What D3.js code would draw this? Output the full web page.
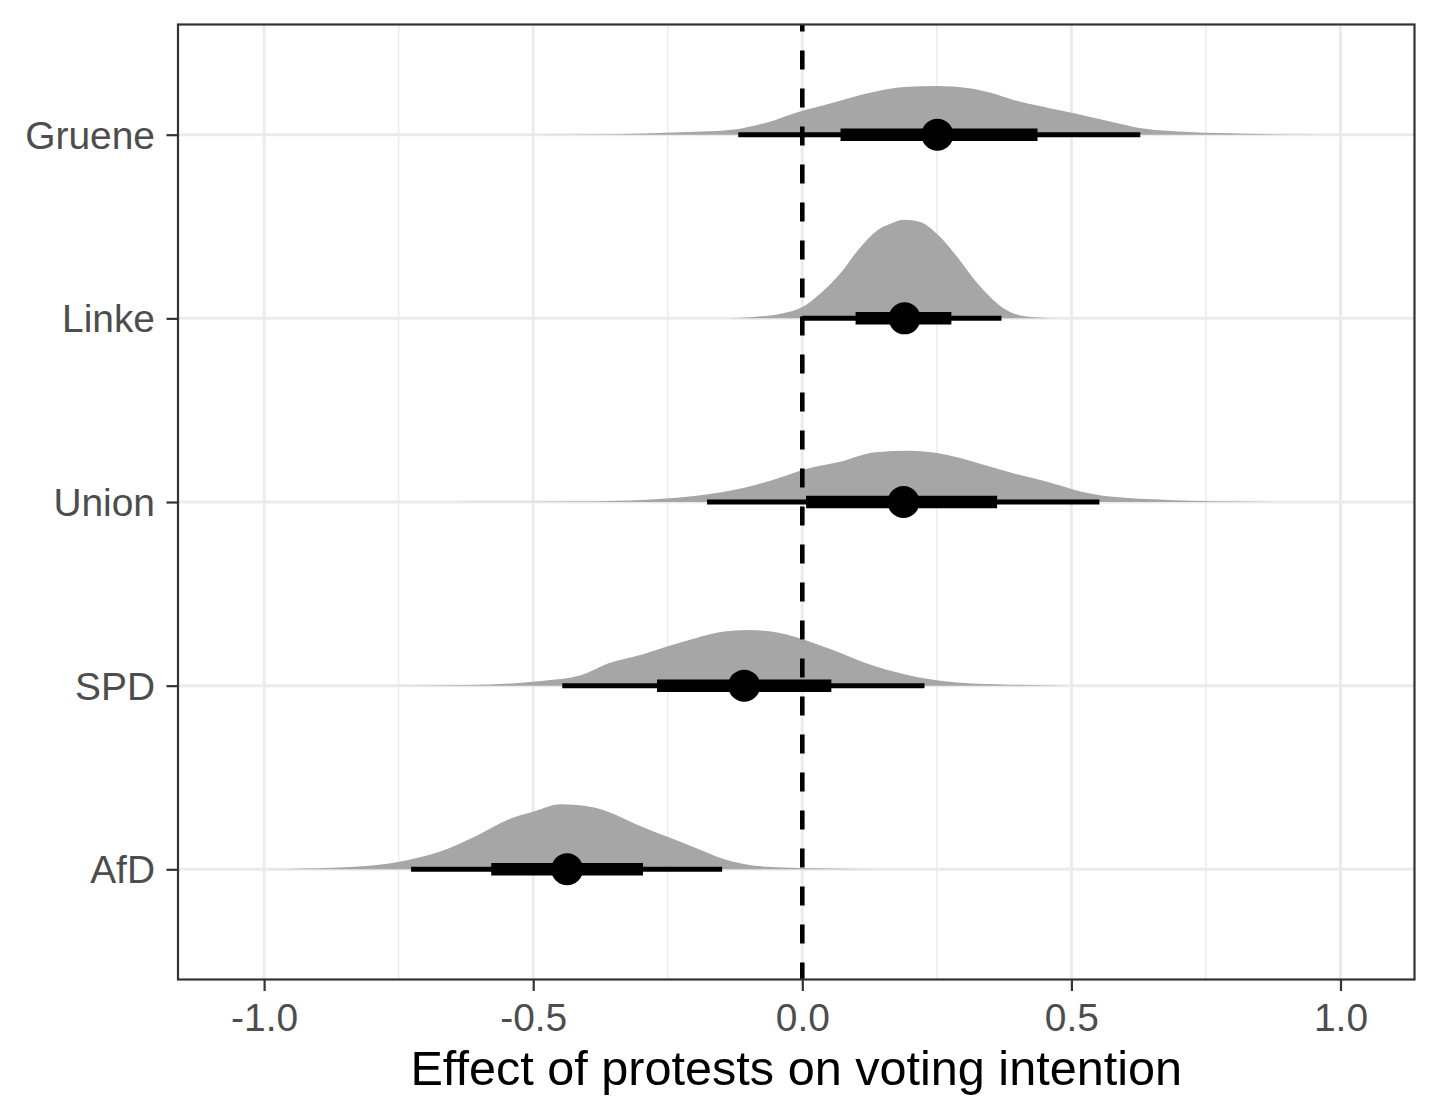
<!DOCTYPE html>
<html>
<head>
<meta charset="utf-8">
<script src="https://cdn.jsdelivr.net/npm/d3@7/dist/d3.min.js"></script>
<style>
  html, body { margin: 0; padding: 0; background: #ffffff; }
  svg { display: block; }
  text { font-family: "Liberation Sans", Arial, Helvetica, sans-serif; }
</style>
</head>
<body>
<svg id="chart" width="1440" height="1120"></svg>
<script>
// ---------------- data ----------------
const categories = ["Gruene", "Linke", "Union", "SPD", "AfD"];

// point estimates (median) and intervals
const pointEst  = [0.251, 0.190, 0.188, -0.108, -0.437];
const thinLow   = [-0.119, 0.000, -0.177, -0.446, -0.727];
const thinHigh  = [0.628, 0.370, 0.552, 0.227, -0.149];
const thickLow  = [0.071, 0.099, 0.007, -0.270, -0.578];
const thickHigh = [0.437, 0.277, 0.362, 0.054, -0.296];

// posterior densities (x value, density)
const densGrueneX = [-0.50, -0.35, -0.24, -0.13, -0.07, 0.00, 0.05, 0.13, 0.19, 0.25, 0.31, 0.35, 0.405, 0.46, 0.505, 0.59, 0.634, 0.72, 0.825, 0.93, 1.00];
const densGrueneY = [0, 0.02, 0.09, 0.21, 0.49, 1.02, 1.32, 1.81, 2.03, 2.07, 1.98, 1.79, 1.40, 1.13, 0.91, 0.47, 0.26, 0.11, 0.04, 0.01, 0];

const densLinkeX = [-0.134, -0.09, -0.04, 0.00, 0.033, 0.07, 0.108, 0.139, 0.164, 0.19, 0.219, 0.25, 0.288, 0.318, 0.349, 0.38, 0.424, 0.485];
const densLinkeY = [0, 0.06, 0.20, 0.48, 1.05, 1.90, 3.03, 3.74, 4.03, 4.20, 4.10, 3.60, 2.61, 1.70, 0.91, 0.34, 0.06, 0];

const densUnionX = [-0.654, -0.43, -0.28, -0.175, -0.10, -0.035, 0.00, 0.07, 0.136, 0.20, 0.253, 0.327, 0.392, 0.455, 0.519, 0.572, 0.68, 0.84, 0.88];
const densUnionY = [0, 0.02, 0.11, 0.33, 0.65, 1.08, 1.36, 1.71, 2.12, 2.18, 2.07, 1.65, 1.22, 0.86, 0.44, 0.23, 0.09, 0.01, 0];

const densSPDX = [-0.78, -0.617, -0.485, -0.413, -0.36, -0.298, -0.253, -0.20, -0.146, -0.102, -0.058, -0.004, 0.048, 0.137, 0.21, 0.272, 0.36, 0.495];
const densSPDY = [0, 0.03, 0.20, 0.43, 0.95, 1.33, 1.66, 2.01, 2.30, 2.37, 2.30, 2.01, 1.59, 0.81, 0.38, 0.17, 0.06, 0];

const densAfDX = [-0.99, -0.927, -0.81, -0.732, -0.67, -0.606, -0.545, -0.496, -0.45, -0.387, -0.356, -0.308, -0.247, -0.199, -0.145, -0.067, 0.05, 0.14];
const densAfDY = [0, 0.03, 0.14, 0.40, 0.78, 1.42, 2.13, 2.48, 2.77, 2.63, 2.41, 1.91, 1.35, 0.92, 0.43, 0.11, 0.03, 0];

const densX = [densGrueneX, densLinkeX, densUnionX, densSPDX, densAfDX];
const densY = [densGrueneY, densLinkeY, densUnionY, densSPDY, densAfDY];

const xMajorTicks = [-1.0, -0.5, 0.0, 0.5, 1.0];
const xTickLabels = ["-1.0", "-0.5", "0.0", "0.5", "1.0"];
const xMinorTicks = [-0.75, -0.25, 0.25, 0.75];
const refLine = 0;
const xTitle = "Effect of protests on voting intention";

// ---------------- layout ----------------
const panel = { left: 178, right: 1414.5, top: 24.5, bottom: 979.5 };
const svg = d3.select("#chart");

const x = d3.scaleLinear().domain([-1.16, 1.1375]).range([panel.left, panel.right]);
const y = d3.scalePoint().domain(categories).range([panel.top, panel.bottom]).padding(0.6);
const dScale = d3.scaleLinear().domain([0, 4.2]).range([0, 98.7]);

svg.append("rect").attr("width", 1440).attr("height", 1120).attr("fill", "#ffffff");

svg.append("defs").append("clipPath").attr("id", "pclip")
  .append("rect").attr("x", panel.left).attr("y", panel.top)
  .attr("width", panel.right - panel.left).attr("height", panel.bottom - panel.top);

const g = svg.append("g").attr("clip-path", "url(#pclip)");

// grid
g.selectAll(".minor").data(xMinorTicks).join("line")
  .attr("x1", d => x(d)).attr("x2", d => x(d))
  .attr("y1", panel.top).attr("y2", panel.bottom)
  .attr("stroke", "#ebebeb").attr("stroke-width", 1.5);
g.selectAll(".majorx").data(xMajorTicks).join("line")
  .attr("x1", d => x(d)).attr("x2", d => x(d))
  .attr("y1", panel.top).attr("y2", panel.bottom)
  .attr("stroke", "#ebebeb").attr("stroke-width", 3);
g.selectAll(".majory").data(categories).join("line")
  .attr("x1", panel.left).attr("x2", panel.right)
  .attr("y1", d => y(d)).attr("y2", d => y(d))
  .attr("stroke", "#ebebeb").attr("stroke-width", 3);

// densities
const area = d3.area()
  .x(p => x(p[0]))
  .y0(p => p[2])
  .y1(p => p[2] - dScale(p[1]))
  .curve(d3.curveMonotoneX);

categories.forEach((c, i) => {
  const pts = densX[i].map((v, k) => [v, densY[i][k], y(c)]);
  g.append("path").datum(pts).attr("d", area).attr("fill", "#a6a6a6");
});

// intervals
categories.forEach((c, i) => {
  g.append("line")
    .attr("x1", x(thinLow[i])).attr("x2", x(thinHigh[i]))
    .attr("y1", y(c)).attr("y2", y(c))
    .attr("stroke", "#000").attr("stroke-width", 5);
  g.append("line")
    .attr("x1", x(thickLow[i])).attr("x2", x(thickHigh[i]))
    .attr("y1", y(c)).attr("y2", y(c))
    .attr("stroke", "#000").attr("stroke-width", 12.5);
  g.append("circle")
    .attr("cx", x(pointEst[i])).attr("cy", y(c)).attr("r", 16)
    .attr("fill", "#000");
});

// reference line
g.append("line")
  .attr("x1", x(refLine)).attr("x2", x(refLine))
  .attr("y1", panel.top - 12).attr("y2", panel.bottom)
  .attr("stroke", "#000").attr("stroke-width", 4.6)
  .attr("stroke-dasharray", "19,19");

// panel border
svg.append("rect")
  .attr("x", panel.left).attr("y", panel.top)
  .attr("width", panel.right - panel.left).attr("height", panel.bottom - panel.top)
  .attr("fill", "none").attr("stroke", "#333333").attr("stroke-width", 2.2);

// axes
const xAxis = d3.axisBottom(x).tickValues(xMajorTicks)
  .tickFormat((d, i) => xTickLabels[i]).tickSize(11.5).tickPadding(12);
const gx = svg.append("g").attr("transform", `translate(0,${panel.bottom})`).call(xAxis);
gx.select(".domain").remove();
gx.selectAll(".tick line").attr("stroke", "#333333").attr("stroke-width", 2.2);
gx.selectAll(".tick text").attr("fill", "#4d4d4d").style("font-size", "38.9px")
  .style("font-family", '"Liberation Sans", Arial, sans-serif');

const yAxis = d3.axisLeft(y).tickSize(11.5).tickPadding(11.5);
const gy = svg.append("g").attr("transform", `translate(${panel.left},0)`).call(yAxis);
gy.select(".domain").remove();
gy.selectAll(".tick line").attr("stroke", "#333333").attr("stroke-width", 2.2);
gy.selectAll(".tick text").attr("fill", "#4d4d4d").style("font-size", "38.9px")
  .attr("dy", "0.35em")
  .style("font-family", '"Liberation Sans", Arial, sans-serif');

// title
svg.append("text")
  .attr("x", (panel.left + panel.right) / 2).attr("y", 1085)
  .attr("text-anchor", "middle")
  .attr("fill", "#000")
  .style("font-size", "48.6px")
  .text(xTitle);
</script>
</body>
</html>
